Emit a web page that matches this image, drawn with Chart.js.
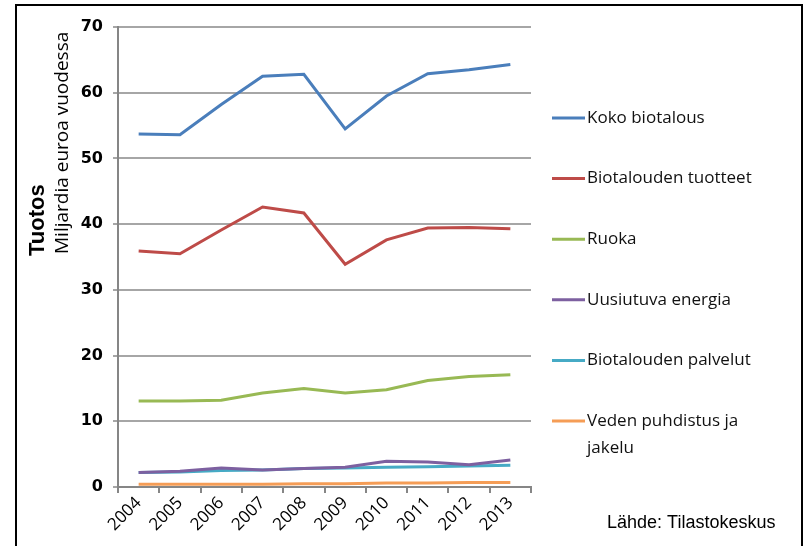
<!DOCTYPE html>
<html>
<head>
<meta charset="utf-8">
<script src="https://cdn.jsdelivr.net/npm/chart.js@4/dist/chart.umd.min.js"></script>
<style>
  html, body { margin: 0; padding: 0; background: #fff; }
  #wrap { width: 805px; height: 546px; }
</style>
</head>
<body>
<div id="wrap"><canvas id="tuotos_chart" width="805" height="546"></canvas></div>
<script>
var years = ["2004", "2005", "2006", "2007", "2008", "2009", "2010", "2011", "2012", "2013"];
var kokoBiotalous = [53.7, 53.6, 58.2, 62.5, 62.8, 54.5, 59.5, 62.9, 63.5, 64.3];
var biotaloudenTuotteet = [35.9, 35.5, 39.1, 42.6, 41.7, 33.9, 37.6, 39.4, 39.5, 39.3];
var ruoka = [13.1, 13.1, 13.2, 14.3, 15.0, 14.3, 14.8, 16.2, 16.8, 17.1];
var uusiutuvaEnergia = [2.2, 2.4, 2.9, 2.6, 2.8, 3.0, 3.9, 3.8, 3.4, 4.1];
var biotaloudenPalvelut = [2.2, 2.3, 2.5, 2.6, 2.8, 2.9, 3.0, 3.1, 3.2, 3.3];
var vedenPuhdistus = [0.4, 0.4, 0.4, 0.4, 0.5, 0.5, 0.6, 0.6, 0.7, 0.7];
var yTicks = [0, 10, 20, 30, 40, 50, 60, 70];

function serie(label, data, color) {
    return {
        label: label,
        data: data,
        borderColor: color,
        backgroundColor: color,
        borderWidth: 3,
        pointRadius: 0,
        tension: 0,
        fill: false
    };
}

// frame, y title, legend and source drawn by hand
var decor = {
    id: "decor",
    beforeDraw: function (chart) {
        var ctx = chart.ctx;
        ctx.save();
        ctx.fillStyle = "#fff";
        ctx.fillRect(0, 0, chart.width, chart.height);
        ctx.strokeStyle = "#000";
        ctx.lineWidth = 2;
        ctx.strokeRect(16, 5, 786, 600);
        ctx.restore();
    },
    afterDraw: function (chart) {
        var ctx = chart.ctx;
        ctx.save();
        ctx.fillStyle = "#000";
        ctx.textAlign = "left";
        ctx.textBaseline = "middle";
        // y title
        ctx.save();
        ctx.translate(38, 256);
        ctx.rotate(-Math.PI / 2);
        ctx.font = "bold 22px 'Liberation Sans'";
        ctx.fillText("Tuotos", 0, 0);
        ctx.restore();
        ctx.save();
        ctx.translate(63, 254);
        ctx.rotate(-Math.PI / 2);
        ctx.font = "19px 'Open Sans'";
        ctx.fillText("Miljardia euroa vuodessa", 0, 0);
        ctx.restore();
        // legend
        var y = 118;
        chart.data.datasets.forEach(function (ds) {
            ctx.strokeStyle = ds.borderColor;
            ctx.lineWidth = 3;
            ctx.beginPath();
            ctx.moveTo(552, y);
            ctx.lineTo(585, y);
            ctx.stroke();
            ctx.font = "17px 'Open Sans'";
            ctx.fillStyle = "#111";
            var lines = ds.label.split("\n");
            lines.forEach(function (t, i) {
                ctx.fillText(t, 587, y + i * 27);
            });
            y += 60.6;
        });
        // source
        ctx.font = "18px 'Liberation Sans'";
        ctx.fillStyle = "#000";
        ctx.fillText("Lähde: Tilastokeskus", 607, 523);
        ctx.restore();
    }
};

new Chart(document.getElementById("tuotos_chart").getContext("2d"), {
    type: "line",
    data: {
        labels: years,
        datasets: [
            serie("Koko biotalous", kokoBiotalous, "#4A7EBB"),
            serie("Biotalouden tuotteet", biotaloudenTuotteet, "#BE4B48"),
            serie("Ruoka", ruoka, "#98B954"),
            serie("Uusiutuva energia", uusiutuvaEnergia, "#7D60A0"),
            serie("Biotalouden palvelut", biotaloudenPalvelut, "#46AAC5"),
            serie("Veden puhdistus ja\njakelu", vedenPuhdistus, "#F59D56")
        ]
    },
    options: {
        responsive: false,
        animation: false,
        layout: { padding: { left: 60, right: 274, top: 27, bottom: 0 } },
        plugins: {
            legend: { display: false },
            tooltip: { enabled: false }
        },
        scales: {
            x: {
                offset: true,
                afterFit: function (s) { s.height = 59; },
                border: { color: "#868686", width: 2 },
                grid: { offset: true, drawOnChartArea: false, drawTicks: true, tickLength: 6, color: "#868686", lineWidth: 2 },
                ticks: {
                    maxRotation: 45, minRotation: 45,
                    color: "#000",
                    font: { family: "'Open Sans'", size: 17 },
                    padding: 0
                }
            },
            y: {
                min: 0,
                max: 70,
                afterFit: function (s) { s.width = 58; },
                afterBuildTicks: function (s) { s.ticks = yTicks.map(function (v) { return { value: v }; }); },
                border: { color: "#868686", width: 2 },
                grid: { color: "#a6a6a6", lineWidth: 2, tickLength: 5 },
                ticks: {
                    color: "#000",
                    font: { family: "'DejaVu Sans'", size: 16, weight: "bold" },
                    padding: 10
                }
            }
        }
    },
    plugins: [decor]
});
</script>
</body>
</html>
